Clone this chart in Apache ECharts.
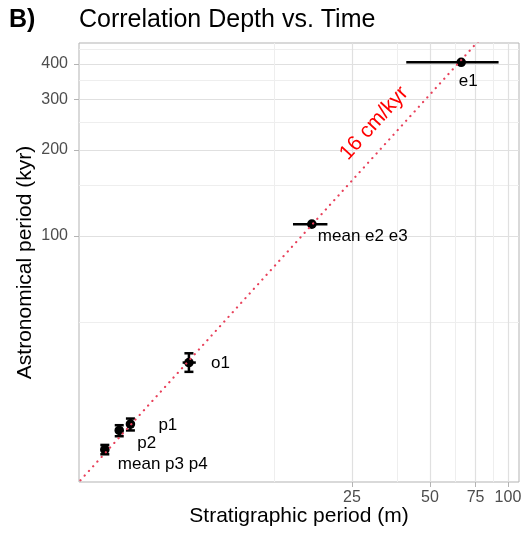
<!DOCTYPE html>
<html>
<head>
<meta charset="utf-8">
<script src="https://cdn.jsdelivr.net/npm/echarts@6/dist/echarts.min.js"></script>
<style>
  html, body { margin: 0; padding: 0; background: #fff; }
  #chart { width: 522px; height: 535px; }
</style>
</head>
<body>
<div id="chart"></div>
<script>
// Cycle labels and their periods: stratigraphic thickness (m) vs astronomical period (kyr)
const cycleNames   = ['e1', 'mean e2 e3', 'o1', 'p1', 'p2', 'mean p3 p4'];
const stratPeriod  = [66, 17.5, 5.87, 3.49, 3.16, 2.78];
const stratLow     = [40.5, 14.8, 5.55, 3.42, 3.10, 2.73];
const stratHigh    = [92, 20.1, 6.24, 3.56, 3.22, 2.83];
const astroPeriod  = [405, 110, 36.1, 22.0, 20.9, 17.9];
const astroLow     = [405, 110, 33.5, 20.9, 19.95, 17.25];
const astroHigh    = [405, 110, 38.9, 23.0, 21.8, 18.6];

// Sedimentation-rate reference line (cm/kyr)
const rateCmPerKyr = 16;
const rateLineDepths = [2, 90];

// Axis breaks
const xMajorTicks = [25, 50, 75, 100];
const xMinorTicks = [12.5, 37.5, 62.5, 87.5];
const yMajorTicks = [100, 200, 300, 400];
const yMinorTicks = [50, 150, 250, 350, 450];
const xRange = [2.21, 110.3];
const yRange = [13.8, 473];

// Label placement relative to each point: [dx, dy, align]
const labelPlacement = [[7, 19, 'center'], [6, 12.5, 'left'], [22, 1, 'left'], [28, 1.5, 'left'], [18, 13, 'left'], [13, 15, 'left']];

const FONT = '"Liberation Sans", Arial, Helvetica, sans-serif';
const rateMPerKyr = rateCmPerKyr / 100;

const pointRows = cycleNames.map((n, i) => [stratPeriod[i], astroPeriod[i], stratLow[i], stratHigh[i], astroLow[i], astroHigh[i]]);
const rateLine = rateLineDepths.map(d => [d, d / rateMPerKyr]);

const chart = echarts.init(document.getElementById('chart'), null, { renderer: 'canvas' });

function logAxis(pos, range, ticks, minor, extra) {
  return Object.assign({
    type: 'log', logBase: 10, position: pos,
    min: range[0], max: range[1],
    axisLine: { show: false },
    axisTick: minor ? { show: false, customValues: ticks } : { show: true, customValues: ticks, length: 5, lineStyle: { color: '#b3b3b3', width: 1 } },
    axisLabel: minor ? { show: false, customValues: ticks } : { show: true, customValues: ticks, color: '#4d4d4d', fontSize: 16, fontFamily: FONT },
    splitLine: { show: true, lineStyle: { color: minor ? '#eeeeee' : '#e0e0e0', width: minor ? 1 : 1.2 } },
    minorTick: { show: false }, minorSplitLine: { show: false }
  }, extra || {});
}

const option = {
  backgroundColor: '#ffffff',
  animation: false,
  title: [
    { text: 'B)', left: 9, top: 8, padding: 0, textStyle: { fontFamily: FONT, fontSize: 25, fontWeight: 'bold', color: '#000' } },
    { text: 'Correlation Depth vs. Time', left: 79, top: 8, padding: 0, textStyle: { fontFamily: FONT, fontSize: 25, fontWeight: 'normal', color: '#000' } }
  ],
  grid: { left: 79, right: 3, top: 43, bottom: 53, show: true, borderColor: '#b3b3b3', borderWidth: 1, backgroundColor: '#fff', containLabel: false, outerBoundsMode: 'none' },
  xAxis: [
    logAxis('bottom', xRange, xMinorTicks, true, { z: 0 }),
    logAxis('bottom', xRange, xMajorTicks, false, {
      name: 'Stratigraphic period (m)', nameLocation: 'middle', nameGap: 24, nameMoveOverlap: false,
      nameTextStyle: { fontFamily: FONT, fontSize: 21, color: '#000' },
      axisLabel: { show: true, customValues: xMajorTicks, color: '#4d4d4d', fontSize: 16, fontFamily: FONT, margin: 8 }
    })
  ],
  yAxis: [
    logAxis('left', yRange, yMinorTicks, true),
    logAxis('left', yRange, yMajorTicks, false, {
      name: 'Astronomical period (kyr)', nameLocation: 'middle', nameGap: 43, nameMoveOverlap: false,
      nameTextStyle: { fontFamily: FONT, fontSize: 21, color: '#000' },
      axisLabel: { show: true, customValues: yMajorTicks, color: '#4d4d4d', fontSize: 16, fontFamily: FONT, margin: 11 }
    })
  ],
  series: [
    {
      // error bars, points and their labels
      type: 'custom',
      xAxisIndex: 1, yAxisIndex: 1,
      data: pointRows,
      encode: { x: 0, y: 1 },
      z: 3,
      clip: false,
      renderItem: function (params, api) {
        const i = params.dataIndex;
        const x = api.value(0), y = api.value(1);
        const c = api.coord([x, y]);
        const xl = api.coord([api.value(2), y]);
        const xh = api.coord([api.value(3), y]);
        const yl = api.coord([x, api.value(4)]);
        const yh = api.coord([x, api.value(5)]);
        const stroke = { stroke: '#000', lineWidth: 2.5 };
        const kids = [];
        if (Math.abs(xh[0] - xl[0]) > 0.5) {
          kids.push({ type: 'line', shape: { x1: xl[0], y1: c[1], x2: xh[0], y2: c[1] }, style: stroke });
        }
        if (Math.abs(yh[1] - yl[1]) > 0.5) {
          const hw = 4.5;
          kids.push({ type: 'line', shape: { x1: c[0], y1: yl[1], x2: c[0], y2: yh[1] }, style: stroke });
          kids.push({ type: 'line', shape: { x1: c[0] - hw, y1: yl[1], x2: c[0] + hw, y2: yl[1] }, style: stroke });
          kids.push({ type: 'line', shape: { x1: c[0] - hw, y1: yh[1], x2: c[0] + hw, y2: yh[1] }, style: stroke });
        }
        kids.push({ type: 'circle', shape: { cx: c[0], cy: c[1], r: 4.8 }, style: { fill: '#000' } });
        const lp = labelPlacement[i];
        kids.push({
          type: 'text',
          x: c[0] + lp[0], y: c[1] + lp[1],
          style: { text: cycleNames[i], x: 0, y: 0, align: lp[2], verticalAlign: 'middle', fill: '#000', fontSize: 17, fontFamily: FONT }
        });
        return { type: 'group', children: kids };
      }
    },
    {
      // 16 cm/kyr reference line
      type: 'line',
      xAxisIndex: 1, yAxisIndex: 1,
      data: rateLine,
      symbol: 'none',
      z: 5,
      clip: true,
      lineStyle: { color: '#e8405a', width: 2.2, type: [0.1, 6.2], cap: 'round' },
      silent: true
    },
    {
      // rotated rate annotation placed alongside the reference line
      type: 'custom',
      xAxisIndex: 1, yAxisIndex: 1,
      data: [[35.2]],
      z: 6,
      clip: false,
      renderItem: function (params, api) {
        const d = api.value(0);
        const p = api.coord([d, d / rateMPerKyr]);
        const q = api.coord([d * 2, (d * 2) / rateMPerKyr]);
        const ang = Math.atan2(-(q[1] - p[1]), q[0] - p[0]);
        const nx = -Math.sin(ang), ny = -Math.cos(ang);
        const off = 22;
        return {
          type: 'text',
          x: p[0] + nx * off, y: p[1] + ny * off,
          rotation: ang,
          style: { text: rateCmPerKyr + ' cm/kyr', x: 0, y: 0, align: 'center', verticalAlign: 'middle', fill: '#ff0000', fontSize: 21, fontFamily: FONT }
        };
      }
    }
  ]
};

chart.setOption(option);
</script>
</body>
</html>
